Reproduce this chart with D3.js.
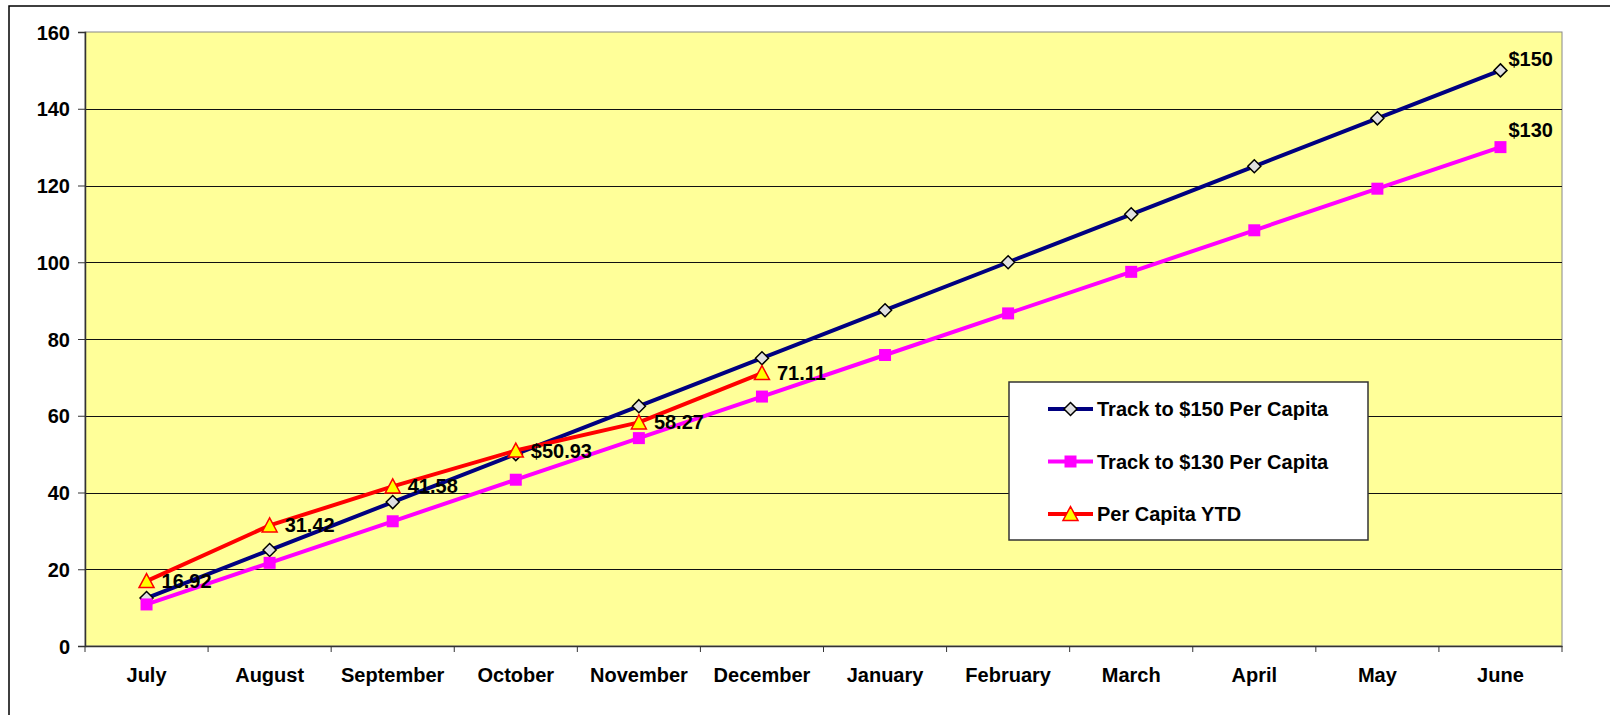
<!DOCTYPE html>
<html lang="en">

<head>
  <meta charset="UTF-8">
  <title>Per Capita Tracking</title>
  <style>
    body {
      margin: 0;
      background: #fff;
    }

    text {
      font-family: "Liberation Sans", Arial, sans-serif;
      font-weight: bold;
    }

    .axis text {
      font-size: 20px;
      fill: #000;
    }

    .axis path,
    .axis line {
      stroke: #333;
    }
  </style>
</head>

<body>

  <div id="chart"></div>

  <script src="https://cdnjs.cloudflare.com/ajax/libs/d3/7.8.5/d3.min.js"></script>
  <script>
    const months = ['July', 'August', 'September', 'October', 'November', 'December',
      'January', 'February', 'March', 'April', 'May', 'June']
    const track150 = [12.5, 25, 37.5, 50, 62.5, 75, 87.5, 100, 112.5, 125, 137.5, 150]
    const track130 = [10.83, 21.67, 32.5, 43.33, 54.17, 65, 75.83, 86.67, 97.5, 108.33, 119.17, 130]
    const ytd = [16.92, 31.42, 41.58, 50.93, 58.27, 71.11]
    const ytdLabels = ['16.92', '31.42', '41.58', '$50.93', '58.27', '71.11']
    const yTicks = [0, 20, 40, 60, 80, 100, 120, 140, 160]
    const seriesNames = ['Track to $150 Per Capita', 'Track to $130 Per Capita', 'Per Capita YTD']

    const W = 1610, H = 715
    // plot area
    const margin = { top: 32, right: 48, bottom: 69, left: 85 }
    const width = W - margin.left - margin.right
    const height = H - margin.top - margin.bottom

    const svg = d3.select('#chart')
      .append('svg')
      .attr('width', W)
      .attr('height', H)

    // outer chart border (runs off the right and bottom of the picture)
    svg.append('rect')
      .attr('x', 9).attr('y', 6)
      .attr('width', W).attr('height', H)
      .attr('fill', 'none')
      .attr('stroke', '#000')
      .attr('stroke-width', 1.5)

    const g = svg.append('g')
      .attr('transform', `translate(${margin.left}, ${margin.top})`)

    const x = d3.scaleBand()
      .domain(months)
      .range([0, width])

    const y = d3.scaleLinear()
      .domain([0, 160])
      .range([height, 0])

    const cx = d => x(d) + x.bandwidth() / 2

    g.append('rect')
      .attr('width', width)
      .attr('height', height)
      .attr('fill', '#ffff99')
      .attr('stroke', '#888')

    // gridlines
    g.append('g')
      .selectAll('line')
      .data(yTicks.filter(t => t > 0 && t < 160))
      .join('line')
      .attr('x1', 0).attr('x2', width)
      .attr('y1', d => Math.round(y(d)) + 0.5)
      .attr('y2', d => Math.round(y(d)) + 0.5)
      .attr('stroke', '#111')

    // y axis
    const yAxis = g.append('g')
      .attr('class', 'axis')
      .call(d3.axisLeft(y).tickValues(yTicks).tickSize(7).tickPadding(8))
    yAxis.select('.domain').attr('stroke', '#444').attr('stroke-width', 1.5)
    yAxis.selectAll('text').attr('dy', '0.36em').attr('font-size', 19)

    // x axis: labels centred in bands, ticks on band edges
    const xAxis = g.append('g')
      .attr('class', 'axis')
      .attr('transform', `translate(0, ${height})`)
      .call(d3.axisBottom(x).tickSize(0).tickPadding(22))
    xAxis.select('.domain').attr('stroke', '#222').attr('stroke-width', 1.5)

    xAxis.selectAll('.edge')
      .data(months.map(m => x(m)).concat([width]))
      .join('line')
      .attr('class', 'edge')
      .attr('x1', d => d).attr('x2', d => d)
      .attr('y1', 0).attr('y2', 6)
      .attr('stroke', '#444')

    const line = d3.line()
      .x((d, i) => cx(months[i]))
      .y(d => y(d))

    const diamond = 'M0,-6.5L6.5,0L0,6.5L-6.5,0Z'
    const square = 'M-6,-6H6V6H-6Z'
    const triangle = 'M0,-7.5L7.5,6.5H-7.5Z'

    const series = [
      { values: track150, color: '#000080', marker: diamond, fill: '#e0e0e0', mstroke: '#000', mwidth: 1.5 },
      { values: track130, color: '#ff00ff', marker: square, fill: '#ff00ff', mstroke: 'none', mwidth: 0 },
      { values: ytd, color: '#ff0000', marker: triangle, fill: '#ffff00', mstroke: '#ff0000', mwidth: 1.5 }
    ]

    series.forEach(s => {
      g.append('path')
        .datum(s.values)
        .attr('d', line)
        .attr('fill', 'none')
        .attr('stroke', s.color)
        .attr('stroke-width', 4)
        .attr('stroke-linejoin', 'round')

      g.append('g')
        .selectAll('path')
        .data(s.values)
        .join('path')
        .attr('transform', (d, i) => `translate(${cx(months[i])}, ${y(d)})`)
        .attr('d', s.marker)
        .attr('fill', s.fill)
        .attr('stroke', s.mstroke)
        .attr('stroke-width', s.mwidth)
    })

    // data labels on the YTD series
    g.append('g')
      .selectAll('text')
      .data(ytd)
      .join('text')
      .attr('x', (d, i) => cx(months[i]) + 15)
      .attr('y', d => y(d) + 7)
      .attr('font-size', 20)
      .text((d, i) => ytdLabels[i])

    // end labels for the two tracks
    const last = months.length - 1
    g.append('g')
      .selectAll('text')
      .data([track150[last], track130[last]])
      .join('text')
      .attr('x', cx(months[last]) + 8)
      .attr('y', (d, i) => y(d) - (i === 0 ? 4 : 10))
      .attr('font-family', 'Lato, "Open Sans", sans-serif')
      .attr('font-size', 20)
      .text(d => '$' + d)

    // legend
    const legend = svg.append('g')
      .attr('transform', 'translate(1009, 382)')

    legend.append('rect')
      .attr('width', 359)
      .attr('height', 158)
      .attr('fill', '#fff')
      .attr('stroke', '#333')
      .attr('stroke-width', 1.5)

    const item = legend.selectAll('.item')
      .data(series)
      .join('g')
      .attr('class', 'item')
      .attr('transform', (d, i) => `translate(0, ${27 + i * 52.5})`)

    item.append('line')
      .attr('x1', 39).attr('x2', 84)
      .attr('stroke', d => d.color)
      .attr('stroke-width', 4)

    item.append('path')
      .attr('transform', 'translate(61.5, 0)')
      .attr('d', d => d.marker)
      .attr('fill', d => d.fill)
      .attr('stroke', d => d.mstroke)
      .attr('stroke-width', d => d.mwidth)

    item.append('text')
      .attr('x', 88)
      .attr('y', 7)
      .attr('font-size', 20)
      .text((d, i) => seriesNames[i])
  </script>
</body>

</html>
